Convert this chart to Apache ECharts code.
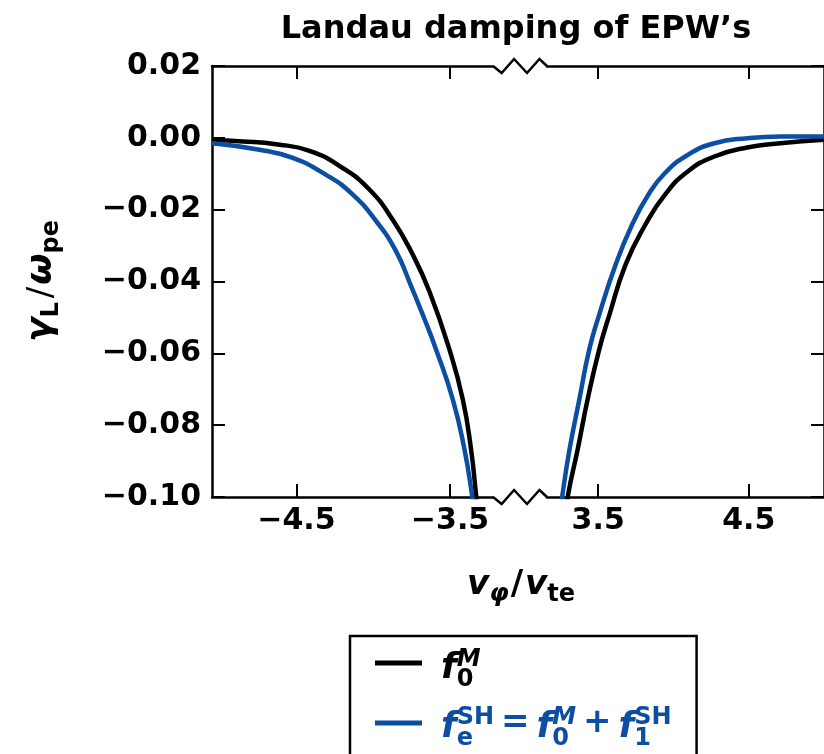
<!DOCTYPE html>
<html>
<head>
<meta charset="utf-8">
<title>Landau damping of EPW’s</title>
<script src="https://cdn.jsdelivr.net/npm/echarts@6/dist/echarts.min.js"></script>
<style>
html, body { margin: 0; padding: 0; background: #fff; }
#chart { width: 824px; height: 754px; }
</style>
</head>
<body>
<div id="chart"></div>
<script>
// Phase velocity v_phi / v_te and damping rate gamma_L / omega_pe, negative branch
const maxwellLeftV     = [-5.05, -4.85, -4.632, -4.415, -4.199, -4.025, -3.873, -3.743, -3.634, -3.504, -3.417, -3.363, -3.33, -3.322];
const maxwellLeftGamma = [-0.0006, -0.0010, -0.0018, -0.0036, -0.0084, -0.0144, -0.0228, -0.0325, -0.0428, -0.0589, -0.0728, -0.0867, -0.0996, -0.1030];
const shLeftV          = [-5.05, -4.741, -4.524, -4.307, -4.133, -3.981, -3.851, -3.758, -3.678, -3.591, -3.482, -3.406, -3.356, -3.348];
const shLeftGamma      = [-0.0015, -0.0033, -0.0056, -0.0103, -0.0158, -0.0232, -0.0316, -0.0408, -0.0492, -0.0589, -0.0728, -0.0867, -0.0996, -0.1030];

// Positive branch
const maxwellRightV     = [3.292, 3.299, 3.364, 3.430, 3.507, 3.575, 3.682, 3.813, 3.944, 4.097, 4.272, 4.490, 4.709, 5.0];
const maxwellRightGamma = [-0.1030, -0.0996, -0.0867, -0.0728, -0.0589, -0.0492, -0.0353, -0.0242, -0.0158, -0.0093, -0.0052, -0.0027, -0.0015, -0.0005];
const shRightV          = [3.255, 3.262, 3.310, 3.375, 3.441, 3.507, 3.616, 3.725, 3.834, 3.944, 4.097, 4.272, 4.490, 4.709, 5.0];
const shRightGamma      = [-0.1030, -0.0996, -0.0867, -0.0728, -0.0589, -0.0492, -0.0353, -0.0242, -0.0158, -0.0098, -0.0047, -0.0015, -0.0001, 0.0004, 0.0004];

// Axis ranges and tick labels
const xRangeLeft  = [-5.05, -3.22];
const xRangeRight = [3.16, 5.0];
const xTicksLeft  = [-4.5, -3.5];
const xTicksRight = [3.5, 4.5];
const yRange = [-0.10, 0.02];
const yStep = 0.02;

const seriesNames = ['f0M', 'feSH'];

// Layout
const FONT = 'DejaVu Sans';
const BLUE = '#0b4ea2';
const plotTop = 66, plotHeight = 431;
const leftPane = { left: 212, width: 281 };
const rightPane = { left: 547, width: 280 };
const spineWidth = 2.5;

const pairs = (xs, ys) => xs.map((x, i) => [x, ys[i]]);
const fmtY = v => Math.abs(v) < 1e-9 ? '0.00' : (v < 0 ? '\u2212' : '') + Math.abs(v).toFixed(2);
const fmtX = v => (v < 0 ? '\u2212' : '') + Math.abs(v).toFixed(1);

const tickLabelStyle = { fontFamily: FONT, fontWeight: 'bold', fontSize: 30, color: '#000' };
const tickStyle = { show: true, inside: true, length: 13, lineStyle: { color: '#000', width: 2 } };

function xAxisFor(grid, range, ticks, position) {
  return {
    type: 'value', gridIndex: grid, min: range[0], max: range[1], position: position,
    axisLine: { show: true, onZero: false, lineStyle: { color: '#000', width: spineWidth } },
    axisTick: Object.assign({ customValues: ticks }, tickStyle),
    axisLabel: position === 'bottom'
      ? Object.assign({ show: true, margin: 9, customValues: ticks, formatter: fmtX }, tickLabelStyle)
      : { show: false },
    splitLine: { show: false }
  };
}

function yAxisFor(grid, position, labels) {
  return {
    type: 'value', gridIndex: grid, min: yRange[0], max: yRange[1], interval: yStep, position: position,
    axisLine: { show: true, onZero: false, lineStyle: { color: '#000', width: spineWidth } },
    axisTick: Object.assign({}, tickStyle),
    axisLabel: labels
      ? Object.assign({ show: true, margin: 11, formatter: fmtY }, tickLabelStyle)
      : { show: false },
    splitLine: { show: false }
  };
}

function lineSeries(name, color, xAxisIndex, yAxisIndex, xs, ys) {
  return {
    name: name, type: 'line', xAxisIndex: xAxisIndex, yAxisIndex: yAxisIndex,
    data: pairs(xs, ys), symbol: 'none', showSymbol: false,
    smooth: 0.5, clip: true,
    lineStyle: { color: color, width: 4.5 }, itemStyle: { color: color },
    emphasis: { disabled: true }, silent: true
  };
}

// Rich text styles for the legend formulas (main letters, super- and subscripts)
function scriptStyles(prefix, color, mainShift, supShift, subShift) {
  const base = { color: color, fontFamily: FONT, fontWeight: 'bold' };
  const r = {};
  r[prefix + 'f'] = Object.assign({}, base, { fontStyle: 'italic', fontSize: 36, lineHeight: 46, verticalAlign: 'middle', padding: [mainShift, 0, 0, 0] });
  r[prefix + 'fs'] = Object.assign({}, base, { fontStyle: 'italic', fontSize: 36, lineHeight: 46, verticalAlign: 'middle', padding: [mainShift, 0, 0, 14] });
  r[prefix + 'sup'] = Object.assign({}, base, { fontStyle: 'italic', fontSize: 24, lineHeight: 20, verticalAlign: 'top', padding: [supShift, 0, 0, 0] });
  r[prefix + 'supu'] = Object.assign({}, base, { fontSize: 24, lineHeight: 20, verticalAlign: 'top', padding: [supShift, 0, 0, 0] });
  r[prefix + 'sub'] = Object.assign({}, base, { fontSize: 24, lineHeight: 20, verticalAlign: 'top', width: 0, padding: [subShift, 0, 0, 0] });
  r[prefix + 'op'] = Object.assign({}, base, { fontSize: 34, lineHeight: 46, verticalAlign: 'middle', padding: [0, 7, 0, 7] });
  return r;
}
const legendRich = Object.assign({}, scriptStyles('k', '#000', 12, 8, 28), scriptStyles('b', BLUE, 10, 6, 27));

function legendLabel(name) {
  if (name === seriesNames[0]) {
    return '{kfs|f}{ksub|0}{ksup|M}';
  }
  return '{bfs|f}{bsub|e}{bsupu|SH}{bop|=}{bf|f}{bsub|0}{bsup|M}{bop|+}{bf|f}{bsub|1}{bsupu|SH}';
}

// Zigzag marks where the x axis is broken
const gapStart = leftPane.left + leftPane.width;
const gapEnd = rightPane.left;
const zigFrac = [[0, 0], [0.16, 7], [0.39, -7], [0.63, 7], [0.86, -7], [1, 0]];
function zigzag(y) {
  return {
    type: 'polyline', silent: true, z: 10,
    shape: { points: zigFrac.map(p => [gapStart + p[0] * (gapEnd - gapStart), y + p[1]]) },
    style: { stroke: '#000', lineWidth: spineWidth, fill: null, lineJoin: 'miter' }
  };
}

const option = {
  animation: false,
  backgroundColor: '#fff',
  title: {
    text: 'Landau damping of EPW’s',
    left: 511, top: 9, textAlign: 'center',
    textStyle: { fontFamily: FONT, fontWeight: 'bold', fontSize: 32, color: '#000' }
  },
  grid: [
    { left: leftPane.left, width: leftPane.width, top: plotTop, height: plotHeight, containLabel: false },
    { left: rightPane.left, width: rightPane.width, top: plotTop, height: plotHeight, containLabel: false }
  ],
  xAxis: [
    xAxisFor(0, xRangeLeft, xTicksLeft, 'bottom'),
    xAxisFor(0, xRangeLeft, xTicksLeft, 'top'),
    xAxisFor(1, xRangeRight, xTicksRight, 'bottom'),
    xAxisFor(1, xRangeRight, xTicksRight, 'top')
  ],
  yAxis: [
    yAxisFor(0, 'left', true),
    yAxisFor(1, 'right', false)
  ],
  legend: {
    orient: 'vertical', left: 350, top: 636, height: 200,
    data: [
      { name: seriesNames[0], itemStyle: { color: '#000' } },
      { name: seriesNames[1], itemStyle: { color: BLUE } }
    ],
    icon: 'rect', itemWidth: 47, itemHeight: 5, itemGap: 8,
    padding: [3, 25, 40, 25],
    borderColor: '#000', borderWidth: 2.5, borderRadius: 0, backgroundColor: '#fff',
    selectedMode: false,
    formatter: legendLabel,
    textStyle: { rich: legendRich }
  },
  series: [
    lineSeries(seriesNames[0], '#000', 0, 0, maxwellLeftV, maxwellLeftGamma),
    lineSeries(seriesNames[1], BLUE, 0, 0, shLeftV, shLeftGamma),
    lineSeries(seriesNames[0], '#000', 2, 1, maxwellRightV, maxwellRightGamma),
    lineSeries(seriesNames[1], BLUE, 2, 1, shRightV, shRightGamma)
  ],
  graphic: [
    zigzag(plotTop),
    zigzag(plotTop + plotHeight),
    {
      // x-axis title: v_phi / v_te
      type: 'text', x: 521, y: 585, silent: true,
      style: {
        text: '{v|v}{s|φ}{m|/}{v|v}{su|te}',
        align: 'center', verticalAlign: 'middle',
        rich: {
          v: { fontFamily: FONT, fontWeight: 'bold', fontStyle: 'italic', fontSize: 34, lineHeight: 44, verticalAlign: 'middle', fill: '#000' },
          m: { fontFamily: FONT, fontWeight: 'bold', fontSize: 34, lineHeight: 44, verticalAlign: 'middle', fill: '#000', padding: [0, 2, 0, 2] },
          s: { fontFamily: FONT, fontWeight: 'bold', fontStyle: 'italic', fontSize: 25, lineHeight: 28, verticalAlign: 'bottom', fill: '#000' },
          su: { fontFamily: FONT, fontWeight: 'bold', fontSize: 24, lineHeight: 28, verticalAlign: 'bottom', fill: '#000' }
        }
      }
    },
    {
      // y-axis title: gamma_L / omega_pe
      type: 'text', x: 42, y: 281, rotation: Math.PI / 2, silent: true,
      style: {
        text: '{g|γ}{s|L}{m|/}{g|ω}{s|pe}',
        align: 'center', verticalAlign: 'middle',
        rich: {
          g: { fontFamily: FONT, fontWeight: 'bold', fontStyle: 'italic', fontSize: 36, lineHeight: 44, verticalAlign: 'middle', fill: '#000' },
          m: { fontFamily: FONT, fontSize: 34, lineHeight: 44, verticalAlign: 'middle', fill: '#000', padding: [0, 2, 0, 4] },
          s: { fontFamily: FONT, fontWeight: 'bold', fontSize: 24, lineHeight: 28, verticalAlign: 'bottom', fill: '#000' }
        }
      }
    }
  ]
};

const chart = echarts.init(document.getElementById('chart'), null, { renderer: 'canvas' });
chart.setOption(option);
</script>
</body>
</html>
